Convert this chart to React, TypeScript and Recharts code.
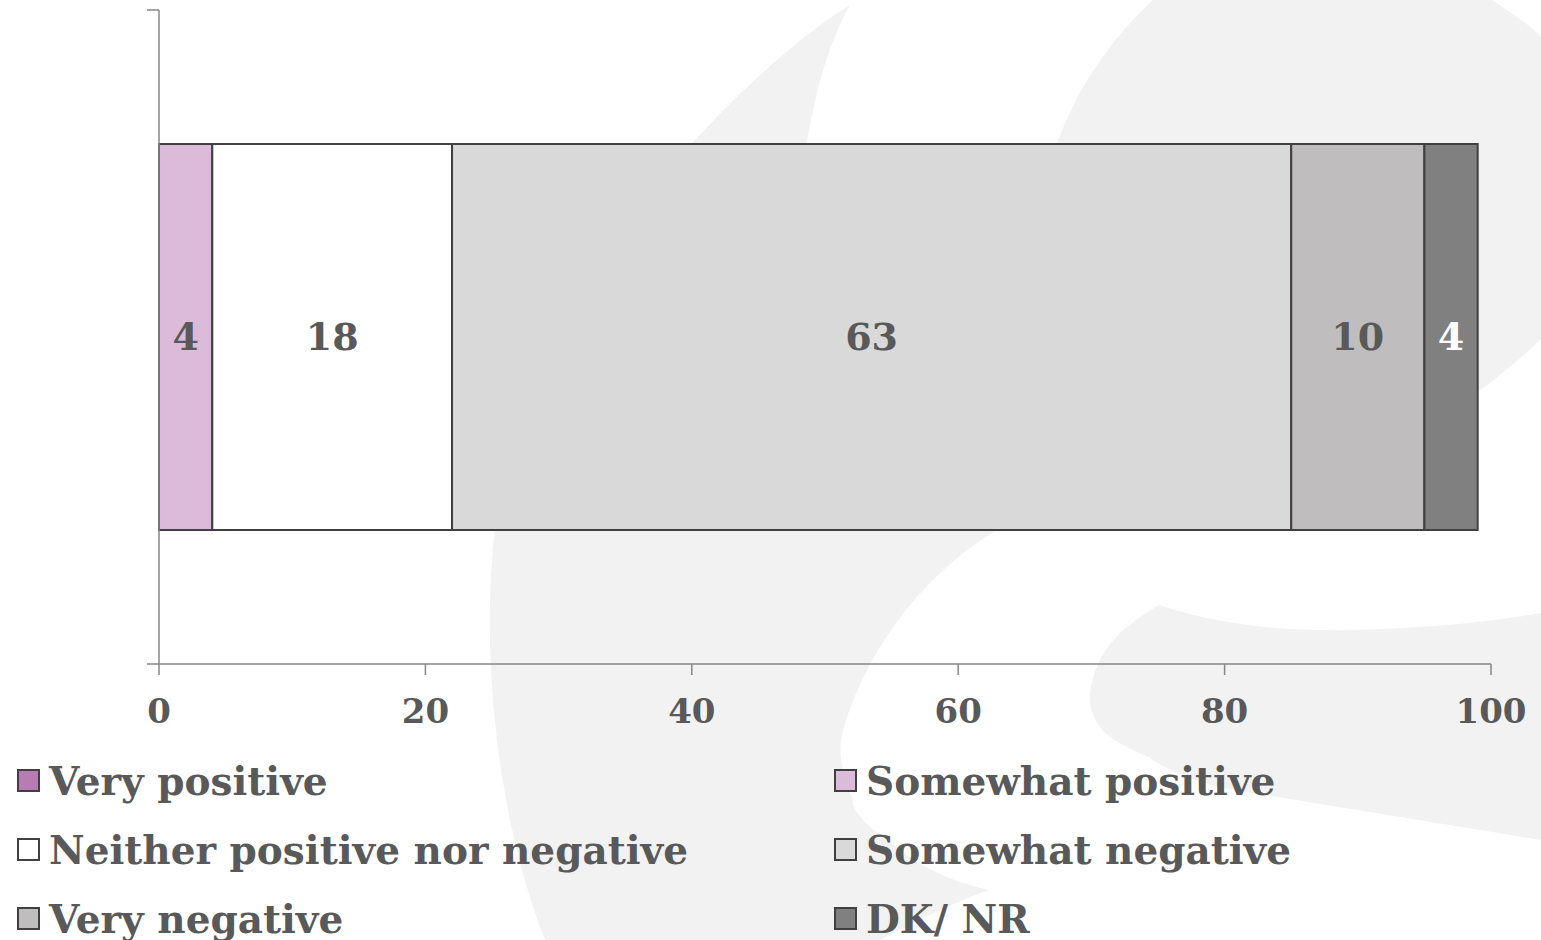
import React from 'react';
import { BarChart, Bar, XAxis, YAxis, LabelList, Legend } from 'recharts';

const categories = ['Opinion'];
const seriesNames = [
  'Very positive',
  'Somewhat positive',
  'Neither positive nor negative',
  'Somewhat negative',
  'Very negative',
  'DK/ NR',
];
const seriesValues = [0, 4, 18, 63, 10, 4];
const seriesColors = ['#b87cb4', '#dbbbd9', '#ffffff', '#d9d9d9', '#bfbdbe', '#808080'];
const labelColors = ['#595959', '#595959', '#595959', '#595959', '#595959', '#ffffff'];
const xTicks = [0, 20, 40, 60, 80, 100];
const frameTicks = [0, 1];

const data = categories.map((name) => {
  const row: Record<string, string | number> = { name, frame: 0.5 };
  seriesValues.forEach((v, i) => {
    row[`s${i}`] = v;
  });
  return row;
});

const FONT = "'DejaVu Serif', serif";
const TEXT = '#595959';
const AXIS = '#868686';

const Watermark = () => (
  <svg width={1541} height={940} style={{ position: 'absolute', left: 0, top: 0 }}>
    <path
      fill="#f2f2f2"
      d="M850,5 C760,60 560,250 505,470 C475,600 490,800 545,940 L880,940 C930,915 960,900 989,890 C940,880 905,855 901,850 C870,830 850,810 853,800 C840,770 838,750 843,730 C870,640 930,570 997,530 L900,300 L806,150 C815,90 830,40 850,5 Z"
    />
    <path
      fill="#f2f2f2"
      d="M1153,0 L1492,0 C1510,12 1530,25 1541,37 L1541,339 C1520,360 1500,375 1478,392 L1300,460 L1062,460 L1055,150 C1075,90 1110,40 1153,0 Z"
    />
    <path
      fill="#f2f2f2"
      d="M1159,605 C1180,612 1200,617 1217,620 C1260,628 1300,631 1353,630 C1430,628 1490,622 1541,613 L1541,840 L1217,787 C1185,777 1160,767 1149,757 C1120,745 1105,735 1100,727 C1090,712 1088,700 1091,687 C1095,665 1105,648 1120,633 C1135,620 1147,612 1159,605 Z"
    />
  </svg>
);

const renderLegend = () => (
  <div
    style={{
      display: 'grid',
      gridTemplateColumns: '817px 706px',
      gridAutoRows: '69px',
      paddingLeft: 17,
      fontFamily: FONT,
      fontWeight: 'bold',
      fontSize: 39,
      color: TEXT,
    }}
  >
    {seriesNames.map((n, i) => (
      <div key={n} style={{ display: 'flex', alignItems: 'center', whiteSpace: 'nowrap' }}>
        <span
          style={{
            display: 'inline-block',
            width: 19,
            height: 19,
            background: seriesColors[i],
            border: '2px solid #404040',
            marginRight: 9,
            boxSizing: 'content-box',
          }}
        />
        <span>{n}</span>
      </div>
    ))}
  </div>
);

export default function App() {
  return (
    <div
      style={{
        position: 'absolute',
        left: 0,
        top: 0,
        width: 1541,
        height: 940,
        background: '#ffffff',
        overflow: 'hidden',
      }}
    >
      <Watermark />
      <div style={{ position: 'absolute', left: 0, top: 0 }}>
        <BarChart
          width={1541}
          height={940}
          data={data}
          layout="vertical"
          margin={{ top: 10, right: 50, bottom: 216, left: 158 }}
          style={{ fontFamily: FONT }}
        >
          <XAxis
            type="number"
            domain={[0, 100]}
            ticks={xTicks}
            interval={0}
            height={60}
            axisLine={{ stroke: AXIS, strokeWidth: 1.5 }}
            tickLine={{ stroke: AXIS, strokeWidth: 1.5 }}
            tickSize={11}
            tickMargin={24}
            tick={{ fill: TEXT, fontSize: 34, fontWeight: 'bold', fontFamily: FONT }}
          />
          <YAxis yAxisId="cat" type="category" dataKey="name" hide width={0} />
          <YAxis
            yAxisId="frame"
            type="number"
            dataKey="frame"
            domain={[0, 1]}
            ticks={frameTicks}
            interval={0}
            allowDataOverflow
            width={1}
            tickSize={12}
            tick={{ fontSize: 1, fill: 'none' }}
            tickFormatter={() => ''}
            axisLine={{ stroke: AXIS, strokeWidth: 1.5 }}
            tickLine={{ stroke: AXIS, strokeWidth: 1.5 }}
          />
          <Legend
            layout="horizontal"
            verticalAlign="middle"
            align="center"
            wrapperStyle={{ top: 746, left: 0, width: 1541 }}
            content={renderLegend}
          />
          {seriesNames.map((n, i) => (
            <Bar
              key={n}
              name={n}
              dataKey={`s${i}`}
              yAxisId="cat"
              stackId="a"
              barSize={386}
              fill={seriesColors[i]}
              stroke="#404040"
              strokeWidth={2}
              isAnimationActive={false}
            >
              <LabelList
                dataKey={`s${i}`}
                position="center"
                formatter={(v: number) => (v === 0 ? '' : v)}
                fill={labelColors[i]}
                fontSize={38}
                fontWeight="bold"
                fontFamily={FONT}
              />
            </Bar>
          ))}
        </BarChart>
      </div>
    </div>
  );
}
